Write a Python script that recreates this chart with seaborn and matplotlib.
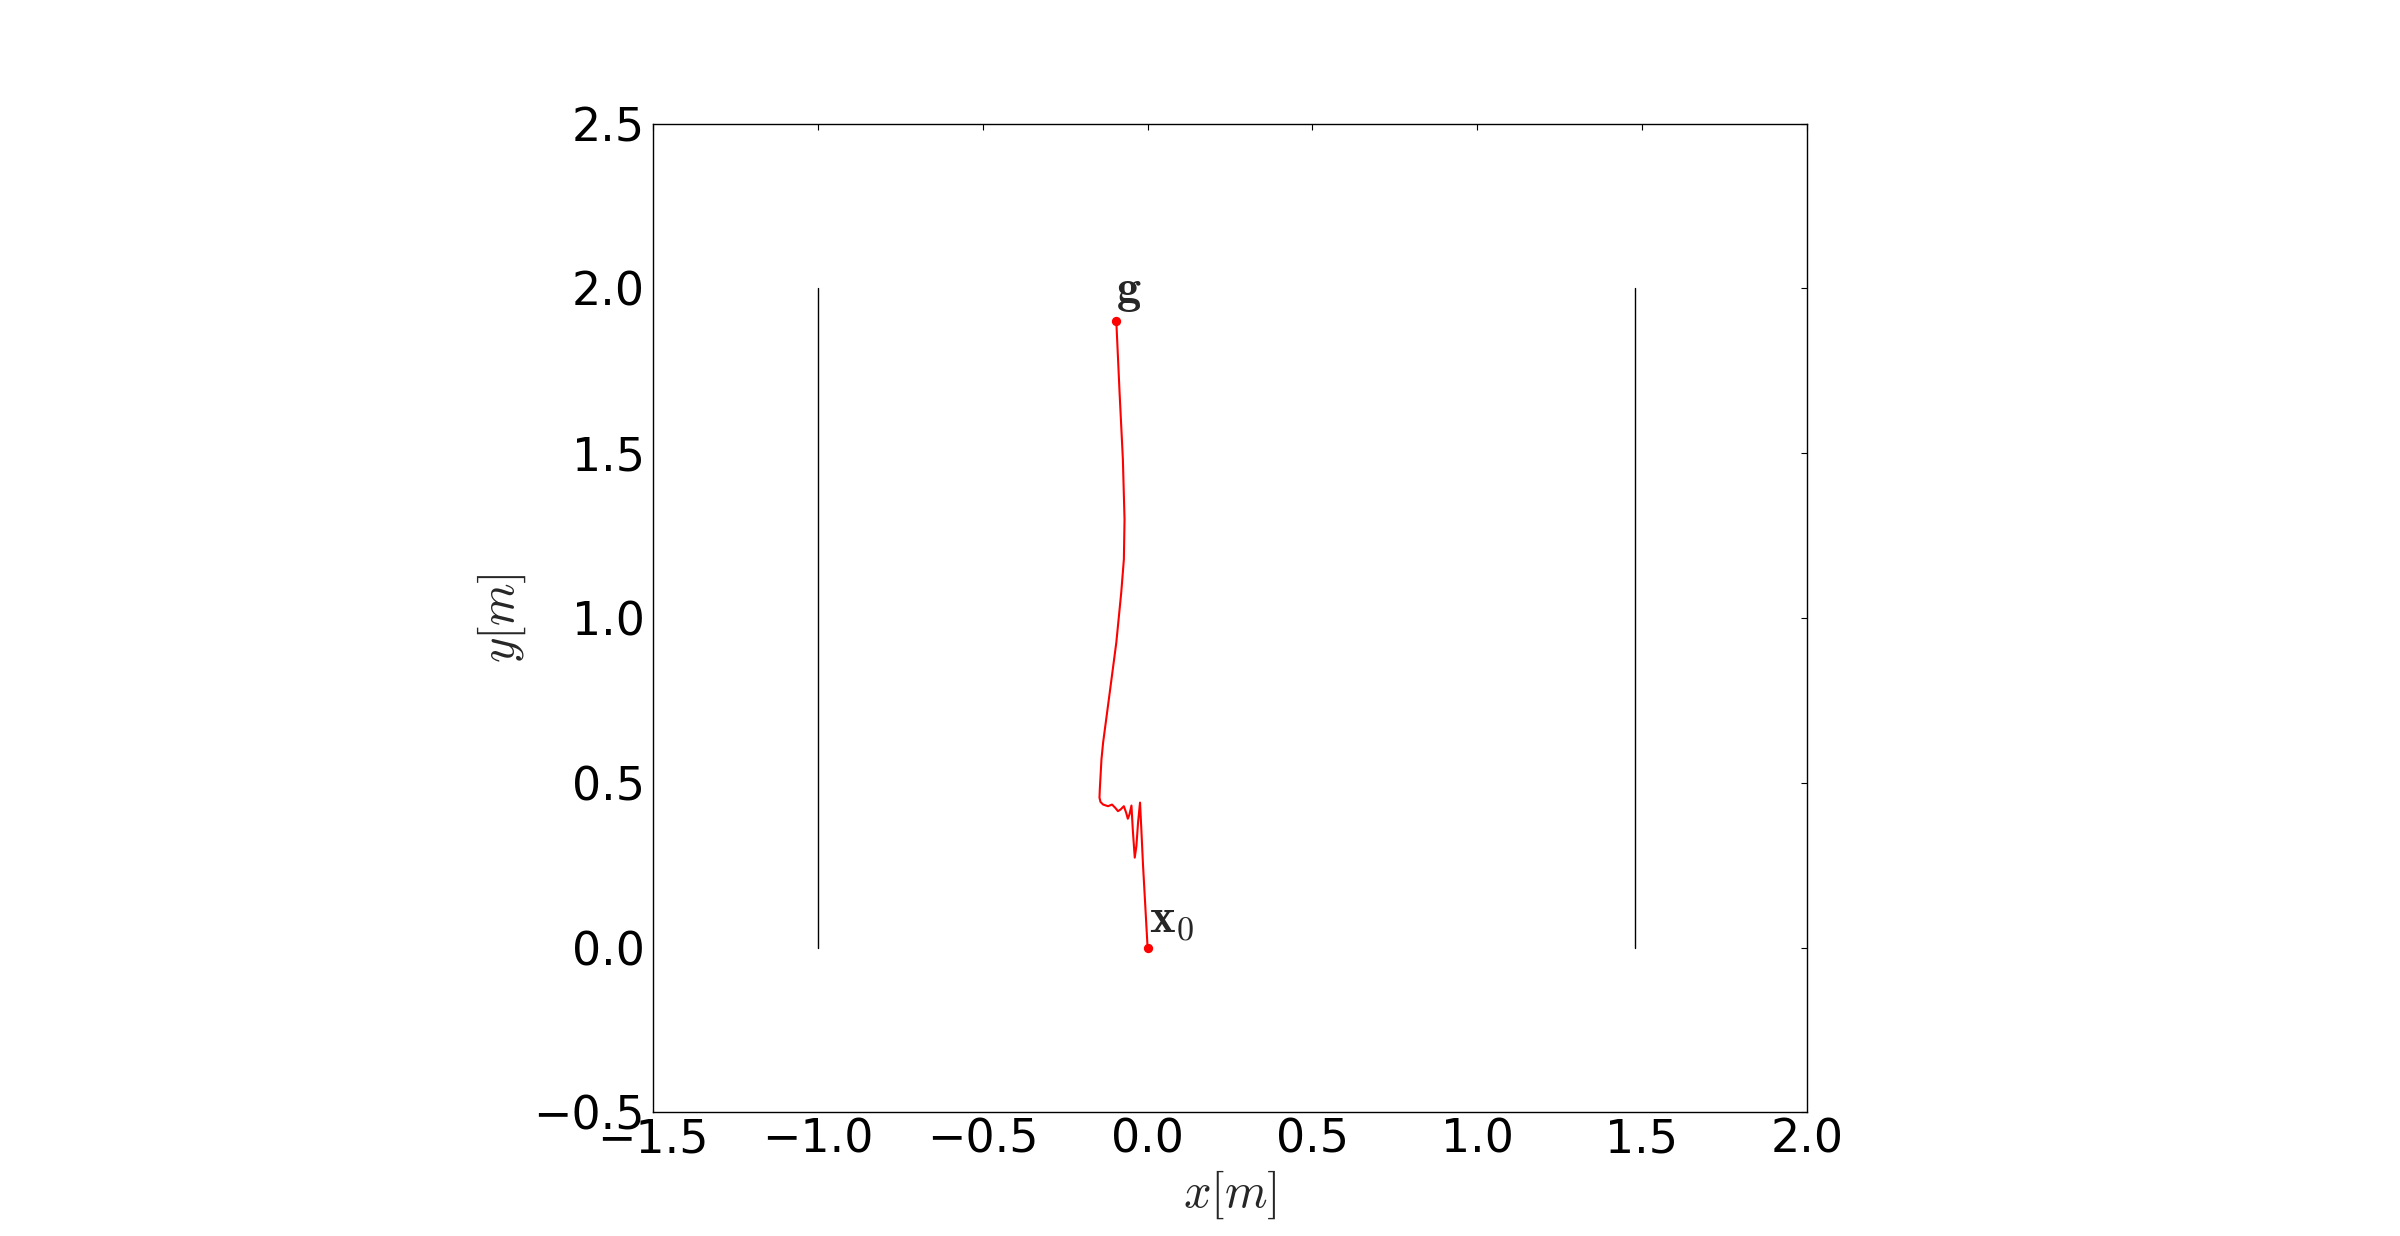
import numpy as np
import pandas as pd
import matplotlib
matplotlib.use("Agg")
import matplotlib.pyplot as plt
import seaborn as sns

# ─────────────────────────────────────────
# Data
# ─────────────────────────────────────────
traj_x = [0.0, -0.014, -0.019, -0.023, -0.029, -0.034, -0.039, -0.045, -0.049,
          -0.055, -0.060, -0.065, -0.072, -0.082, -0.090, -0.098, -0.108,
          -0.120, -0.135, -0.143, -0.146, -0.145, -0.140, -0.135, -0.115, -0.095,
          -0.080, -0.072, -0.070, -0.075, -0.085, -0.095]
traj_y = [0.0, 0.252, 0.359, 0.440, 0.379, 0.308, 0.273, 0.359, 0.431,
          0.404, 0.391, 0.409, 0.429, 0.419, 0.414, 0.424, 0.434,
          0.429, 0.434, 0.442, 0.455, 0.480, 0.571, 0.622, 0.773, 0.925,
          1.077, 1.178, 1.299, 1.481, 1.683, 1.902]

wall_x = [-1.0, 1.48]
wall_y = [0.0, 2.0]

start = (0.0, 0.0)
goal = (-0.095, 1.902)

x_ticks = [-1.5, -1.0, -0.5, 0.0, 0.5, 1.0, 1.5, 2.0]
y_ticks = [-0.5, 0.0, 0.5, 1.0, 1.5, 2.0, 2.5]

# ─────────────────────────────────────────
# Style
# ─────────────────────────────────────────
sns.set_style("white")
plt.rcParams.update({
    "font.family": ["DejaVu Sans"],
    "mathtext.fontset": "cm",
    "axes.linewidth": 1.0,
    "axes.edgecolor": "black",
    "xtick.direction": "in",
    "ytick.direction": "in",
    "xtick.top": True,
    "ytick.right": True,
    "xtick.major.size": 4.5,
    "ytick.major.size": 4.5,
    "xtick.major.width": 0.8,
    "ytick.major.width": 0.8,
    "xtick.major.pad": 4,
    "ytick.major.pad": 6,
    "xtick.color": "black",
    "ytick.color": "black",
})

fig, ax = plt.subplots(figsize=(24, 12.36), dpi=100)
fig.subplots_adjust(left=0.125, right=0.9, bottom=0.1, top=0.9)

# walls
for wx in wall_x:
    walls = pd.DataFrame({"x": [wx, wx], "y": wall_y})
    sns.lineplot(data=walls, x="x", y="y", sort=False, estimator=None,
                 color="black", linewidth=1.0, ax=ax)

# trajectory
traj = pd.DataFrame({"x": traj_x, "y": traj_y})
sns.lineplot(data=traj, x="x", y="y", sort=False, estimator=None,
             color="red", linewidth=1.5, ax=ax)

# start / goal points
pts = pd.DataFrame({"x": [start[0], goal[0]], "y": [start[1], goal[1]]})
sns.scatterplot(data=pts, x="x", y="y", color="red", s=45, linewidth=0,
                ax=ax, zorder=5)

ax.text(goal[0] + 0.0, goal[1] + 0.055, r"$\mathbf{g}$", fontsize=35)
ax.text(start[0] + 0.005, start[1] + 0.05, r"$\mathbf{x}_0$", fontsize=35)

ax.set_xlim(-1.5, 2.0)
ax.set_ylim(-0.5, 2.5)
ax.set_xticks(x_ticks)
ax.set_yticks(y_ticks)
ax.tick_params(labelsize=33)
ax.set_aspect("equal")
ax.set_xlabel(r"$x[m]$", fontsize=35)
ax.set_ylabel(r"$y[m]$", fontsize=35)
for s in ax.spines.values():
    s.set_visible(True)

plt.savefig("out.png", dpi=100)
